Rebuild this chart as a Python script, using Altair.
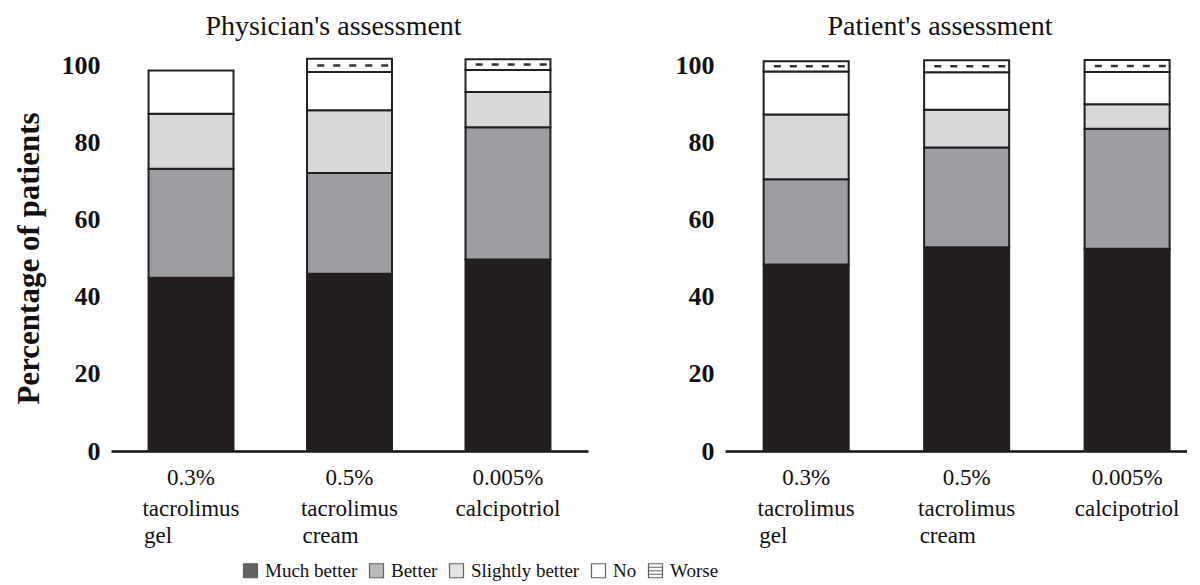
import altair as alt
import pandas as pd

categories = ["0.3%|tacrolimus|gel", "0.5%|tacrolimus|cream", "0.005%|calcipotriol|"]
third_lines = ["gel", "cream", ""]
levels = ["Much better", "Better", "Slightly better", "No", "Worse"]
colors = ["#231f20", "#9d9ea1", "#d7d8da", "#ffffff", "#ffffff"]
SQ = "M-1,-1H1V1H-1Z"
STRIPED = "M-1,-1H1V1H-1Z M-1,-0.5H1 M-1,0H1 M-1,0.5H1"
shapes = [SQ, SQ, SQ, SQ, STRIPED]
y_ticks = [0, 20, 40, 60, 80, 100]

phys_much = [44.9, 45.9, 49.6]
phys_better = [28.2, 26.1, 34.3]
phys_slightly = [14.3, 16.3, 9.1]
phys_no = [11.2, 9.9, 5.7]
phys_worse = [0.0, 3.4, 2.8]

pat_much = [48.3, 52.8, 52.4]
pat_better = [22.1, 25.8, 31.1]
pat_slightly = [16.8, 9.8, 6.3]
pat_no = [11.1, 9.7, 8.4]
pat_worse = [2.7, 3.1, 3.1]

FONT = "Liberation Serif"
H = 386


def long_df(series):
    rows = []
    for li, (lev, vals) in enumerate(zip(levels, series)):
        for ci, cat in enumerate(categories):
            rows.append(dict(cat=cat, level=lev, order=li, value=vals[ci]))
    return pd.DataFrame(rows)


def legend():
    return alt.Legend(title=None, orient="none", legendX=130, legendY=496,
                      direction="horizontal")


def panel(series, title, width, y_title, xscale):
    df = long_df(series)
    yaxis = alt.Axis(values=y_ticks, domain=False, ticks=False, grid=False,
                     labelFont=FONT, labelFontWeight="bold", labelFontSize=26,
                     labelPadding=11, labelColor="#111",
                     title=y_title if y_title else None,
                     titleFont=FONT, titleFontSize=31, titleFontWeight="bold",
                     titleColor="#111", titlePadding=16)
    xaxis = alt.Axis(title=None, labelExpr="slice(split(datum.label, '|'), 0, 2)",
                     labelAngle=0, ticks=False, domainColor="#111", domainWidth=2.5,
                     labelFont=FONT, labelFontSize=23, labelLineHeight=31,
                     labelPadding=15, labelColor="#111")
    color = alt.Color("level:N", scale=alt.Scale(domain=levels, range=colors), legend=legend())
    base = alt.Chart(df)
    bars = base.transform_filter("datum.value > 0").mark_bar(
        stroke="#231f20", strokeWidth=2
    ).encode(
        x=alt.X("cat:N", sort=categories, scale=xscale, axis=xaxis),
        y=alt.Y("value:Q", stack="zero", scale=alt.Scale(domain=[0, 100], nice=False), axis=yaxis),
        color=color,
        order=alt.Order("order:Q", sort="ascending"),
    )
    keys = base.transform_filter("false").mark_point(filled=True).encode(
        x=alt.X("cat:N", sort=categories),
        y=alt.value(0),
        color=color,
        shape=alt.Shape("level:N", scale=alt.Scale(domain=levels, range=shapes), legend=legend()),
    )
    dash = base.transform_stack(
        stack="value", groupby=["cat"], sort=[alt.SortField("order", order="ascending")],
        as_=["y0", "y1"]
    ).transform_filter(
        "datum.level == 'Worse' && datum.value > 0"
    ).transform_calculate(
        mid="(datum.y0 + datum.y1) / 2"
    ).mark_rule(color="#333", strokeWidth=2.5, strokeDash=[7, 9]).encode(
        x=alt.X("cat:N", sort=categories, bandPosition=0.12),
        x2=alt.X2("cat:N", bandPosition=0.97),
        y=alt.Y("mid:Q"),
    )
    lab_df = pd.DataFrame({"cat": categories, "line3": third_lines})
    third = alt.Chart(lab_df).mark_text(
        align="left", baseline="alphabetic", dx=-47, font=FONT, fontSize=23, color="#111"
    ).encode(
        x=alt.X("cat:N", sort=categories),
        y=alt.value(H + 92),
        text="line3:N",
    )
    return alt.layer(bars, keys, dash, third).properties(
        width=width, height=H,
        title=alt.TitleParams(title, font=FONT, fontSize=28, fontWeight="normal",
                              color="#111", anchor="middle", offset=11, dx=-16),
    )


left = panel([phys_much, phys_better, phys_slightly, phys_no, phys_worse],
             "Physician's assessment", 477, "Percentage of patients",
             alt.Scale(paddingInner=0.464, paddingOuter=0.237))
right = panel([pat_much, pat_better, pat_slightly, pat_no, pat_worse],
              "Patient's assessment", 462, None,
              alt.Scale(paddingInner=0.47, paddingOuter=0.1745, align=0.69))

chart = alt.hconcat(left, right, spacing=87).configure_view(stroke=None).configure_legend(
    symbolSize=196,
    symbolStrokeColor="#231f20", symbolStrokeWidth=1.2,
    labelFont=FONT, labelFontSize=19, labelColor="#111",
    labelOffset=5, columnPadding=9,
).properties(
    padding={"left": 5, "top": 5, "right": 0, "bottom": 0}
)

chart.save("out.html", embed_options={"renderer": "svg", "actions": False})
